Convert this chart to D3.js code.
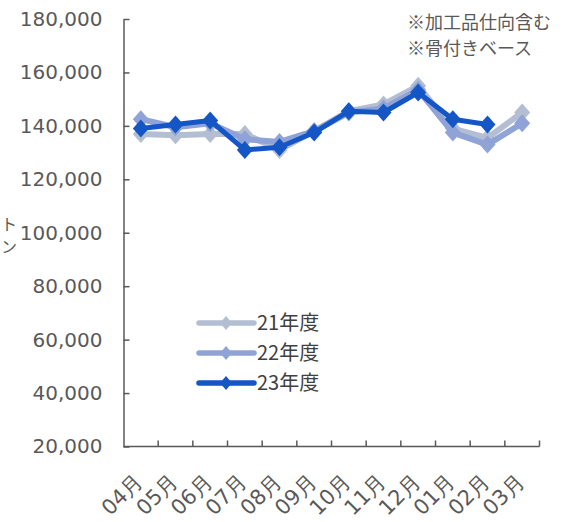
<!DOCTYPE html>
<html>
<head>
<meta charset="utf-8">
<script src="https://cdn.jsdelivr.net/npm/d3@7"></script>
<style>
  html, body { margin: 0; padding: 0; background: #fff; }
  svg { display: block; }
</style>
</head>
<body>
<svg id="chart" width="576" height="522"></svg>
<script>
// Monthly volume (tons) by fiscal year
const months = ["04月","05月","06月","07月","08月","09月","10月","11月","12月","01月","02月","03月"];
const fy21 = [137000,136500,137000,137000,131000,138000,145500,148000,155000,139000,135500,145000];
const fy22 = [142500,139500,141000,135000,134000,138000,145000,146500,153500,137500,133000,141000];
const fy23 = [139000,140500,142000,131000,132000,137500,145500,145000,152500,142500,140500,null];
const seriesNames = ["21年度","22年度","23年度"];
const seriesColors = ["#b3bed3","#8fa3d6","#1456c6"];
const yTicks = [20000,40000,60000,80000,100000,120000,140000,160000,180000];
const notes = ["※加工品仕向含む","※骨付きベース"];
const yTitle = ["ト","ン"];

const svg = d3.select("#chart");
const font = "'DejaVu Sans', Verdana, sans-serif";
const cjk = "'Noto Sans CJK JP', 'DejaVu Sans', sans-serif";
const axisColor = "#595959";

const x = d3.scaleBand().domain(months).range([123.5, 539.5]);
const y = d3.scaleLinear().domain([20000, 180000]).range([446.5, 19]);

// y-axis title (stacked characters)
svg.append("g").selectAll("text").data(yTitle).join("text")
  .attr("x", 9).attr("y", (d, i) => 230 + i * 23)
  .attr("text-anchor", "middle")
  .attr("font-family", cjk).attr("font-size", 16).attr("fill", axisColor)
  .text(d => d);

// y axis
const yAxis = svg.append("g").attr("transform", "translate(123.5,0)")
  .call(d3.axisLeft(y).tickValues(yTicks).tickSizeInner(-6).tickSizeOuter(0)
    .tickFormat(d3.format(",")).tickPadding(21));
yAxis.select(".domain").attr("stroke", axisColor).attr("stroke-width", 1.5);
yAxis.selectAll(".tick line").attr("stroke", axisColor).attr("stroke-width", 1.5);
yAxis.selectAll(".tick text").attr("font-family", font).attr("font-size", 20)
  .attr("fill", axisColor);

// x axis: ticks at category boundaries, pointing up
const xAxisG = svg.append("g").attr("transform", "translate(0,446.5)");
xAxisG.append("line").attr("x1", 123.5).attr("x2", 539.5)
  .attr("stroke", axisColor).attr("stroke-width", 1.5);
xAxisG.selectAll(".xt").data(months).join("line").attr("class", "xt")
  .attr("x1", d => x(d) + x.bandwidth()).attr("x2", d => x(d) + x.bandwidth())
  .attr("y1", 0).attr("y2", -6)
  .attr("stroke", axisColor).attr("stroke-width", 1.5);
xAxisG.selectAll(".xl").data(months).join("text").attr("class", "xl")
  .attr("transform", d => `translate(${x(d) + x.bandwidth() / 2 - 2},31) rotate(-45)`)
  .attr("text-anchor", "end")
  .attr("dy", "0.35em")
  .attr("font-family", font).attr("font-size", 21).attr("fill", axisColor)
  .text(d => d);

// series lines and diamond markers
const data = [fy21, fy22, fy23];
const line = d3.line()
  .defined(d => d.v != null)
  .x(d => x(d.m) + x.bandwidth() / 2)
  .y(d => y(d.v));
const diamond = (hw, hh) => `M0,${-hh}L${hw},0L0,${hh}L${-hw},0Z`;

data.forEach((vals, si) => {
  const pts = vals.map((v, i) => ({ m: months[i], v }));
  const g = svg.append("g");
  g.append("path").datum(pts).attr("d", line)
    .attr("fill", "none").attr("stroke", seriesColors[si])
    .attr("stroke-width", si === 2 ? 5 : 6).attr("stroke-linejoin", "round");
  g.selectAll("path.mk").data(pts.filter(d => d.v != null)).join("path")
    .attr("class", "mk")
    .attr("transform", d => `translate(${x(d.m) + x.bandwidth() / 2},${y(d.v)})`)
    .attr("d", diamond(8, 9))
    .attr("fill", seriesColors[si]);
});

// legend
const legend = svg.append("g");
seriesNames.forEach((name, i) => {
  const ly = 323 + i * 30;
  legend.append("line").attr("x1", 199).attr("x2", 254).attr("y1", ly).attr("y2", ly)
    .attr("stroke", seriesColors[i]).attr("stroke-width", 5.5).attr("stroke-linecap", "round");
  legend.append("path").attr("transform", `translate(226,${ly})`)
    .attr("d", diamond(6, 7)).attr("fill", seriesColors[i]);
  legend.append("text").attr("x", 257).attr("y", ly).attr("dy", "0.36em")
    .attr("font-family", cjk).attr("font-size", 20).attr("fill", "#404040")
    .text(name);
});

// notes
svg.append("g").selectAll("text").data(notes).join("text")
  .attr("x", 407).attr("y", (d, i) => 29 + i * 26)
  .attr("font-family", cjk).attr("font-size", 18).attr("fill", axisColor)
  .text(d => d);
</script>
</body>
</html>
